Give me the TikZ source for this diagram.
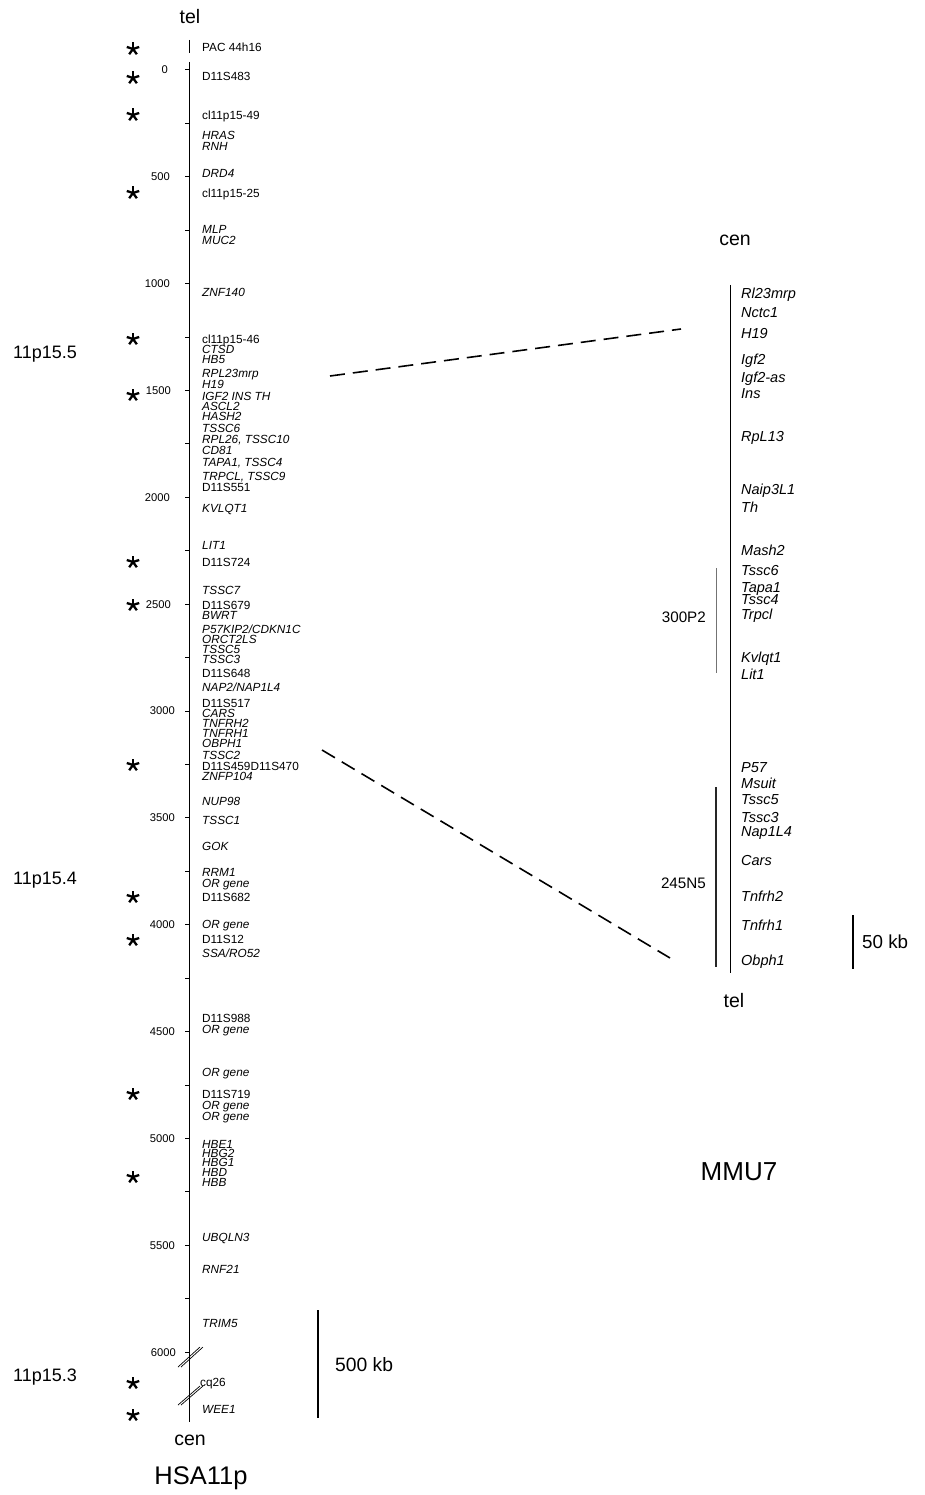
\documentclass[tikz,border=0pt]{standalone}
\usepackage{fontspec}
\setmainfont{Liberation Sans}
\begin{document}
\begin{tikzpicture}[x=1pt,y=-1pt,
  lbl/.style={anchor=base west,inner sep=0pt,font=\fontsize{11.8}{12}\selectfont},
  ilbl/.style={lbl,font=\fontsize{11.8}{12}\selectfont\itshape},
  rlbl/.style={anchor=base west,inner sep=0pt,font=\fontsize{14.5}{15}\selectfont\itshape},
  num/.style={anchor=east,inner sep=0pt,font=\fontsize{11.2}{12}\selectfont},
  big/.style={inner sep=0pt,font=\fontsize{19.5}{20}\selectfont},
  band/.style={anchor=west,inner sep=0pt,font=\fontsize{18}{20}\selectfont},
  clone/.style={anchor=east,inner sep=0pt,font=\fontsize{15.2}{16}\selectfont},
  axis/.style={line width=1pt},
  bar/.style={line width=1.2pt},
  link/.style={line width=1.6pt,dash pattern=on 15pt off 8pt},
  asterisk/.pic={\foreach \a in {-90,-18,54,126,198} \draw[line width=2.3pt] (0,0) -- (\a:6.5);}
]
\useasboundingbox (0,0) rectangle (925,1495);

% ---------- HSA11p axis ----------
\coordinate (pt) at (189,40); \coordinate (pb) at (189,53);
\draw[axis] (pt) -- (pb);
\coordinate (hTop) at (189,62); \coordinate (hBot) at (189,1422);
\draw[axis] (hTop) -- (hBot);
\foreach \v in {0,250,...,6000} {
  \coordinate (tk\v) at (189,70+0.2137*\v);
  \draw[axis] (tk\v) -- ++(-4.5,0);
}
\foreach \v/\r in {0/168,500/170,1000/170,1500/171,2000/170,2500/171,3000/175,3500/175,4000/175,4500/175,5000/175,5500/175,6000/176}
  \node[num] (n\v) at (\r,70+0.2137*\v) {\v};

% break marks
\coordinate (b1a) at (178,1367); \coordinate (b1b) at (200,1347);
\draw[line width=0.7pt] (b1a) -- (b1b) ([xshift=3pt]b1a) -- ([xshift=3pt]b1b);
\coordinate (b2a) at (178,1405); \coordinate (b2b) at (200,1386);
\draw[line width=0.7pt] (b2a) -- (b2b) ([xshift=3pt]b2a) -- ([xshift=3pt]b2b);

% markers (upright)
\foreach \y/\t [count=\i] in {47.7/PAC 44h16,76/D11S483,115/cl11p15-49,193/cl11p15-25,339/cl11p15-46,487/D11S551,562/D11S724,605/D11S679,673/D11S648,703/D11S517,766/D11S459D11S470,897/D11S682,939/D11S12,1018/D11S988,1094/D11S719}
  \node[lbl] (m\i) at (202,\y+4.3) {\t};
\node[lbl] (cq) at (200,1382+4.3) {cq26};

% genes (italic)
\foreach \y/\t [count=\i] in {135/HRAS,146/RNH,173/DRD4,229/MLP,240/MUC2,292/ZNF140,349/CTSD,359/HB5,373/RPL23mrp,384/H19,396/IGF2 INS TH,406/ASCL2,416/HASH2,428/TSSC6,439/{RPL26, TSSC10},450/CD81,462/{TAPA1, TSSC4},476/{TRPCL, TSSC9},508/KVLQT1,545/LIT1,590/TSSC7,615/BWRT,629/{P57KIP2/CDKN1C},639/ORCT2LS,649/TSSC5,659/TSSC3,687/{NAP2/NAP1L4},713/CARS,723/TNFRH2,733/TNFRH1,743/OBPH1,755/TSSC2,776/ZNFP104,801/NUP98,820/TSSC1,846/GOK,872/RRM1,883/OR gene,924/OR gene,953/{SSA/RO52},1029/OR gene,1072/OR gene,1105/OR gene,1116/OR gene,1144/HBE1,1153/HBG2,1162/HBG1,1172/HBD,1182/HBB,1237/UBQLN3,1269/RNF21,1323/TRIM5,1409/WEE1}
  \node[ilbl] (g\i) at (202,\y+4.3) {\t};

% stars
\foreach \y in {49,78,115,193,339,395,562,605,765,897,940,1094,1177,1383,1415}
  \pic at (133,\y) {asterisk};

% labels
\node[big] (telL) at (190,17) {tel};
\node[big] (cenL) at (190,1440) {cen};
\node[inner sep=0pt,font=\fontsize{25.5}{26}\selectfont] (hsa) at (201,1478) {HSA11p};
\node[band] (b155) at (13,354) {11p15.5};
\node[band] (b154) at (13,880) {11p15.4};
\node[band] (b153) at (13,1377) {11p15.3};

% 500 kb scale
\coordinate (s5t) at (318,1310); \coordinate (s5b) at (318,1418);
\draw[bar] (s5t) -- (s5b);
\node[anchor=west,inner sep=0pt,font=\fontsize{19.3}{20}\selectfont] (s500) at (335,1365) {500 kb};

% ---------- MMU7 ----------
\coordinate (mTop) at (730.5,285); \coordinate (mBot) at (730.5,973);
\draw[bar] (mTop) -- (mBot);
\node[big] (cenR) at (735,240) {cen};
\node[big] (telR) at (734,1001) {tel};
\node[inner sep=0pt,font=\fontsize{26}{26}\selectfont] (mmu) at (739,1172) {MMU7};

\foreach \y/\t [count=\i] in {293/Rl23mrp,312/Nctc1,333/H19,359/Igf2,377/Igf2-as,393/Ins,436/RpL13,489/Naip3L1,507/Th,550/Mash2,570/Tssc6,587/Tapa1,599/Tssc4,614/Trpcl,657/Kvlqt1,674/Lit1,767/P57,783/Msuit,799/Tssc5,817/Tssc3,831/Nap1L4,860/Cars,896/Tnfrh2,925/Tnfrh1,960/Obph1}
  \node[rlbl] (r\i) at (741,\y+5.2) {\t};

% clones
\coordinate (c1t) at (716,568); \coordinate (c1b) at (716,673);
\draw[line width=1pt,black!55] (c1t) -- (c1b);
\node[clone] (c300) at (706,617) {300P2};
\coordinate (c2t) at (716,787); \coordinate (c2b) at (716,967);
\draw[line width=1.1pt,black!85] (c2t) -- (c2b);
\node[clone] (c245) at (706,883) {245N5};

% 50 kb scale
\coordinate (s50t) at (853,915); \coordinate (s50b) at (853,969);
\draw[bar] (s50t) -- (s50b);
\node[anchor=west,inner sep=0pt,font=\fontsize{18.8}{20}\selectfont] (s50) at (862,942) {50 kb};

% ---------- links ----------
\coordinate (u1) at (330,376); \coordinate (u2) at (681,329);
\draw[link] (u1) -- (u2);
\coordinate (d1) at (322,750); \coordinate (d2) at (670,958);
\draw[link] (d1) -- (d2);
\end{tikzpicture}
\end{document}
